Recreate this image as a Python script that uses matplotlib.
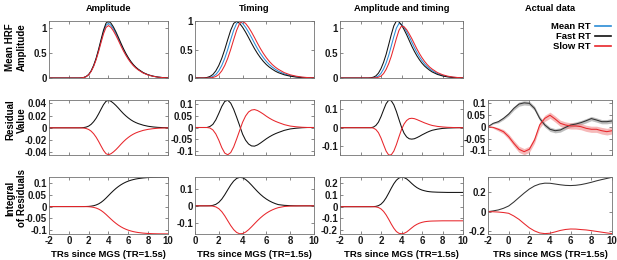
import numpy as np
import matplotlib.pyplot as plt

plt.rcParams['font.family'] = ['Liberation Sans', 'DejaVu Sans']
plt.rcParams['font.weight'] = 'bold'
plt.rcParams['axes.unicode_minus'] = False

# time axis of the model curves (TRs since MGS)
t_model = [-2, 0.75, 1.0, 1.25, 1.5, 1.75, 2.0, 2.25, 2.5, 2.75, 3.0, 3.25, 3.5,
           3.75, 4.0, 4.25, 4.5, 4.75, 5.0, 5.25, 5.5, 5.75, 6.0, 6.25, 6.5, 6.75,
           7.0, 7.5, 8.0, 8.5, 9.0, 9.5, 10.0]

# --- Amplitude model
amp_mean = [0, 0, 0, 0.002, 0.010, 0.029, 0.068, 0.139, 0.244, 0.383, 0.555, 0.747, 0.930,
            1.063, 1.102, 1.063, 0.988, 0.894, 0.788, 0.677, 0.572, 0.477, 0.394, 0.322,
            0.261, 0.211, 0.170, 0.104, 0.062, 0.036, 0.018, 0.008, 0.003]
amp_fast = [0, 0, 0, 0.002, 0.010, 0.030, 0.070, 0.144, 0.254, 0.398, 0.578, 0.777, 0.968,
            1.106, 1.147, 1.106, 1.028, 0.930, 0.820, 0.705, 0.595, 0.497, 0.410, 0.335,
            0.271, 0.219, 0.177, 0.109, 0.065, 0.037, 0.018, 0.008, 0.003]
amp_slow = [0, 0, 0, 0.002, 0.010, 0.028, 0.065, 0.133, 0.234, 0.367, 0.533, 0.717, 0.892,
            1.020, 1.058, 1.020, 0.948, 0.857, 0.756, 0.650, 0.548, 0.458, 0.378, 0.309,
            0.250, 0.202, 0.163, 0.100, 0.060, 0.034, 0.017, 0.007, 0.003]
amp_res_fast = [0, 0, 0, 0.0001, 0.0004, 0.0012, 0.0028, 0.0057, 0.0100, 0.0156, 0.0227,
                0.0305, 0.0380, 0.0434, 0.0450, 0.0434, 0.0403, 0.0365, 0.0322, 0.0276,
                0.0233, 0.0195, 0.0161, 0.0131, 0.0106, 0.0086, 0.0069, 0.0043, 0.0025,
                0.0014, 0.0007, 0.0003, 0.0001]
amp_res_slow = [0, 0, 0, -0.0001, -0.0004, -0.0012, -0.0027, -0.0055, -0.0097, -0.0153,
                -0.0222, -0.0298, -0.0371, -0.0424, -0.0440, -0.0424, -0.0394, -0.0357,
                -0.0315, -0.0270, -0.0228, -0.0190, -0.0157, -0.0128, -0.0104, -0.0084,
                -0.0068, -0.0042, -0.0025, -0.0014, -0.0007, -0.0003, -0.0001]
amp_int_fast = [0, 0, 0, 0, 0.0001, 0.0003, 0.0007, 0.0018, 0.0036, 0.0067, 0.0113, 0.0177,
                0.0259, 0.0357, 0.0463, 0.0570, 0.0670, 0.0763, 0.0845, 0.0917, 0.0978,
                0.1030, 0.1073, 0.1108, 0.1136, 0.1160, 0.1178, 0.1205, 0.1222, 0.1231,
                0.1236, 0.1239, 0.1240]
amp_int_slow = [0, 0, 0, 0, -0.0001, -0.0002, -0.0007, -0.0016, -0.0034, -0.0062, -0.0105,
                -0.0164, -0.0241, -0.0331, -0.0430, -0.0528, -0.0622, -0.0707, -0.0784,
                -0.0851, -0.0908, -0.0955, -0.0995, -0.1027, -0.1054, -0.1075, -0.1093,
                -0.1118, -0.1133, -0.1142, -0.1147, -0.1149, -0.1150]

# --- Timing model
tim_mean = [0, 0, 0.002, 0.009, 0.026, 0.061, 0.125, 0.22, 0.345, 0.5, 0.673, 0.838, 0.958,
            0.993, 0.958, 0.89, 0.805, 0.71, 0.61, 0.515, 0.43, 0.355, 0.29, 0.235, 0.19,
            0.153, 0.12, 0.073, 0.042, 0.023, 0.011, 0.005, 0.002]
tim_fast = [0, 0.002, 0.009, 0.026, 0.061, 0.125, 0.22, 0.345, 0.5, 0.673, 0.838, 0.958,
            0.993, 0.958, 0.89, 0.805, 0.71, 0.61, 0.515, 0.43, 0.355, 0.29, 0.235, 0.19,
            0.153, 0.12, 0.094, 0.056, 0.032, 0.016, 0.007, 0.003, 0.001]
tim_slow = [0, 0, 0, 0.002, 0.009, 0.026, 0.061, 0.125, 0.22, 0.345, 0.5, 0.673, 0.838,
            0.958, 0.993, 0.958, 0.89, 0.805, 0.71, 0.61, 0.515, 0.43, 0.355, 0.29, 0.235,
            0.19, 0.153, 0.094, 0.056, 0.032, 0.016, 0.007, 0.003]
tim_res_fast = [0, 0, 0, 0.004, 0.013, 0.032, 0.059, 0.088, 0.109, 0.114, 0.102, 0.076,
                0.043, 0.008, -0.028, -0.053, -0.069, -0.077, -0.078, -0.073, -0.065,
                -0.056, -0.047, -0.039, -0.032, -0.026, -0.021, -0.012, -0.006, -0.003,
                -0.001, 0, 0]
tim_res_slow = [0, 0, 0, -0.002, -0.010, -0.027, -0.053, -0.084, -0.107, -0.114, -0.105,
                -0.081, -0.048, -0.013, 0.022, 0.048, 0.065, 0.073, 0.075, 0.071, 0.064,
                0.056, 0.047, 0.039, 0.032, 0.026, 0.021, 0.012, 0.006, 0.003, 0.001, 0, 0]
tim_int_fast = [0, 0, 0, 0.0005, 0.0028, 0.0088, 0.0208, 0.0401, 0.0661, 0.0956, 0.1243,
                0.1478, 0.1634, 0.1700, 0.1675, 0.1574, 0.1421, 0.1238, 0.1044, 0.0855,
                0.0682, 0.0531, 0.0402, 0.0294, 0.0205, 0.0132, 0.0073, 0.003, 0.001, 0,
                0, 0, 0]
tim_int_slow = [0, 0, 0, -0.0003, -0.0018, -0.0065, -0.0169, -0.0347, -0.0596, -0.0887,
                -0.1176, -0.1419, -0.1587, -0.1666, -0.1655, -0.1567, -0.1426, -0.1253,
                -0.1068, -0.0885, -0.0716, -0.0566, -0.0437, -0.0329, -0.0240, -0.0167,
                -0.0108, -0.004, -0.0015, -0.0005, 0, 0, 0]

# --- Amplitude and timing model
both_mean = [0, 0, 0, 0.004, 0.015, 0.040, 0.093, 0.180, 0.300, 0.452, 0.638, 0.828, 0.997,
             1.09, 1.074, 1.014, 0.927, 0.828, 0.719, 0.610, 0.512, 0.425, 0.349, 0.283,
             0.229, 0.185, 0.147, 0.089, 0.052, 0.029, 0.015, 0.007, 0.002]
both_fast = [0, 0, 0.005, 0.016, 0.042, 0.097, 0.188, 0.314, 0.473, 0.667, 0.866, 1.043,
             1.14, 1.123, 1.06, 0.969, 0.866, 0.752, 0.638, 0.536, 0.445, 0.365, 0.296,
             0.239, 0.194, 0.154, 0.12, 0.072, 0.041, 0.022, 0.010, 0.005, 0.001]
both_slow = [0, 0, 0, 0, 0.004, 0.015, 0.038, 0.088, 0.172, 0.286, 0.432, 0.608, 0.790,
             0.952, 1.04, 1.024, 0.967, 0.884, 0.790, 0.686, 0.582, 0.489, 0.406, 0.333,
             0.270, 0.218, 0.177, 0.109, 0.066, 0.037, 0.020, 0.009, 0.004]
both_res_fast = [0, 0, 0, 0.003, 0.012, 0.030, 0.060, 0.096, 0.130, 0.149, 0.146, 0.124,
                 0.088, 0.045, 0.003, -0.030, -0.050, -0.060, -0.062, -0.060, -0.054,
                 -0.047, -0.039, -0.032, -0.025, -0.019, -0.014, -0.008, -0.004, -0.002,
                 -0.001, 0, 0]
both_res_slow = [0, 0, 0, -0.002, -0.010, -0.027, -0.056, -0.092, -0.127, -0.148, -0.147,
                 -0.127, -0.092, -0.050, -0.010, 0.020, 0.039, 0.049, 0.051, 0.049, 0.044,
                 0.038, 0.032, 0.026, 0.021, 0.016, 0.012, 0.007, 0.004, 0.002, 0.001, 0, 0]
both_int_fast = [0, 0, 0, 0.0005, 0.0026, 0.0086, 0.0214, 0.0434, 0.0754, 0.1148, 0.1565,
                 0.1947, 0.2246, 0.2434, 0.2502, 0.247, 0.236, 0.218, 0.197, 0.178, 0.162,
                 0.150, 0.141, 0.135, 0.130, 0.127, 0.125, 0.123, 0.122, 0.121, 0.121,
                 0.121, 0.121]
both_int_slow = [0, 0, 0, -0.0003, -0.002, -0.007, -0.019, -0.040, -0.070, -0.107, -0.147,
                 -0.183, -0.211, -0.226, -0.230, -0.226, -0.215, -0.198, -0.180, -0.163,
                 -0.150, -0.140, -0.133, -0.128, -0.125, -0.123, -0.122, -0.121, -0.120,
                 -0.120, -0.120, -0.120, -0.120]

# --- Actual data
t_data = [-2, -1.5, -1, -0.5, 0, 0.5, 1, 1.5, 2, 2.5, 3, 3.5, 4, 4.5, 5, 5.5, 6, 6.5, 7,
          7.5, 8, 8.5, 9, 9.5, 10]
data_res_fast = [0, 0.014, 0.021, 0.035, 0.053, 0.077, 0.095, 0.100, 0.098, 0.077, 0.035,
                 0.007, -0.011, -0.017, -0.014, -0.003, 0.007, 0.011, 0.017, 0.025, 0.034,
                 0.028, 0.021, 0.021, 0.024]
data_sem_fast = [0, 0.003, 0.005, 0.006, 0.007, 0.008, 0.009, 0.009, 0.009, 0.009, 0.009,
                 0.009, 0.009, 0.009, 0.009, 0.009, 0.009, 0.009, 0.009, 0.009, 0.009,
                 0.009, 0.009, 0.009, 0.009]
data_res_slow = [0, -0.003, -0.011, -0.021, -0.042, -0.070, -0.095, -0.105, -0.095, -0.056,
                 0.007, 0.035, 0.048, 0.032, 0.014, 0.007, 0.003, 0.003, 0, -0.007, -0.011,
                 -0.011, -0.017, -0.021, -0.017]
data_sem_slow = [0, 0.004, 0.007, 0.009, 0.011, 0.012, 0.013, 0.013, 0.013, 0.013, 0.013,
                 0.013, 0.013, 0.013, 0.013, 0.013, 0.013, 0.013, 0.013, 0.013, 0.013,
                 0.013, 0.014, 0.014, 0.014]
data_int_fast = [0, 0.008, 0.018, 0.035, 0.059, 0.100, 0.147, 0.193, 0.235, 0.267, 0.287,
                 0.296, 0.295, 0.287, 0.279, 0.273, 0.271, 0.274, 0.281, 0.292, 0.305,
                 0.320, 0.333, 0.345, 0.357]
data_int_slow = [0, -0.001, -0.004, -0.009, -0.017, -0.045, -0.080, -0.125, -0.168, -0.200,
                 -0.221, -0.228, -0.224, -0.210, -0.195, -0.185, -0.180, -0.181, -0.186,
                 -0.190, -0.197, -0.205, -0.213, -0.221, -0.228]

c_mean = '#2b8cd6'
c_fast = '#111111'
c_slow = '#e8262b'
lw = 0.75

W, H = 617, 260
fig = plt.figure(figsize=(W / 100, H / 100), dpi=100)

cols = [(49, 168), (195, 314), (340, 463), (488, 612)]
rows = [(21, 78), (100, 155), (177, 234)]


def make_ax(r, c):
    x0, x1 = cols[c]
    y0, y1 = rows[r]
    return fig.add_axes([x0 / W, 1 - y1 / H, (x1 - x0) / W, (y1 - y0) / H])


def style(ax, xlim, ylim, yticks, bottom):
    ax.set_xlim(xlim)
    ax.set_ylim(ylim)
    ax.set_xticks(range(xlim[0], xlim[1] + 1, 2))
    ax.set_yticks(yticks)
    ax.set_yticklabels(['%g' % v for v in yticks])
    if not bottom:
        ax.set_xticklabels([])
    else:
        ax.set_xlabel('TRs since MGS (TR=1.5s)', fontsize=6.8, fontweight='bold', labelpad=3)
    ax.tick_params(direction='in', length=2, width=0.5, top=True, right=True,
                   labelsize=7, pad=1.5, color='0.35', labelcolor='0.1')
    for s in ax.spines.values():
        s.set_linewidth(0.6)
        s.set_color('0.45')


titles = ['Amplitude', 'Timing', 'Amplitude and timing', 'Actual data']

model = [
    (amp_mean, amp_fast, amp_slow, amp_res_fast, amp_res_slow, amp_int_fast, amp_int_slow),
    (tim_mean, tim_fast, tim_slow, tim_res_fast, tim_res_slow, tim_int_fast, tim_int_slow),
    (both_mean, both_fast, both_slow, both_res_fast, both_res_slow, both_int_fast, both_int_slow),
]
xlims = [(-2, 10), (0, 10), (-2, 10)]
ylim_hrf = [(0, 1.15), (0, 1.0), (0, 1.14)]
ylim_res = [(-0.0445, 0.0455), (-0.115, 0.115), (-0.148, 0.15)]
ylim_int = [(-0.1155, 0.1245), (-0.168, 0.172), (-0.232, 0.252)]
yt_hrf = [[0, 0.5, 1], [0, 0.5, 1], [0, 0.5, 1]]
yt_res = [[-0.04, -0.02, 0, 0.02, 0.04], [-0.1, -0.05, 0, 0.05, 0.1], [-0.1, 0, 0.1]]
yt_int = [[-0.1, -0.05, 0, 0.05, 0.1], [-0.1, 0, 0.1], [-0.2, -0.1, 0, 0.1, 0.2]]

for c, (m, f, s, rf, rs, i_f, i_s) in enumerate(model):
    ax = make_ax(0, c)
    ax.plot(t_model, m, color=c_mean, lw=lw)
    ax.plot(t_model, f, color=c_fast, lw=lw)
    ax.plot(t_model, s, color=c_slow, lw=lw)
    style(ax, xlims[c], ylim_hrf[c], yt_hrf[c], False)
    ax.set_title(titles[c], fontsize=6.7, fontweight='bold', pad=7)

    ax = make_ax(1, c)
    ax.plot(t_model, rf, color=c_fast, lw=lw)
    ax.plot(t_model, rs, color=c_slow, lw=lw)
    style(ax, xlims[c], ylim_res[c], yt_res[c], False)

    ax = make_ax(2, c)
    ax.plot(t_model, i_f, color=c_fast, lw=lw)
    ax.plot(t_model, i_s, color=c_slow, lw=lw)
    style(ax, xlims[c], ylim_int[c], yt_int[c], True)

# actual data column
ax = make_ax(0, 3)
ax.axis('off')
ax.set_title(titles[3], fontsize=6.7, fontweight='bold', pad=7)
ax.plot([], [], color=c_mean, lw=1.2, label='Mean RT')
ax.plot([], [], color=c_fast, lw=1.2, label='Fast RT')
ax.plot([], [], color=c_slow, lw=1.2, label='Slow RT')
ax.legend(loc='upper right', frameon=False, markerfirst=False, fontsize=6.8,
          handlelength=1.7, handletextpad=0.4, labelspacing=0.08, borderaxespad=0,
          borderpad=0.15)

ax = make_ax(1, 3)
fast = np.array(data_res_fast)
slow = np.array(data_res_slow)
ax.fill_between(t_data, fast - np.array(data_sem_fast), fast + np.array(data_sem_fast),
                color='0.55', alpha=0.55, lw=0)
ax.fill_between(t_data, slow - np.array(data_sem_slow), slow + np.array(data_sem_slow),
                color='#f08080', alpha=0.55, lw=0)
ax.plot(t_data, data_res_fast, color='0.2', lw=lw)
ax.plot(t_data, data_res_slow, color=c_slow, lw=lw)
style(ax, (-2, 10), (-0.119, 0.112), [-0.1, -0.05, 0, 0.05, 0.1], False)

ax = make_ax(2, 3)
ax.plot(t_data, data_int_fast, color='0.2', lw=lw)
ax.plot(t_data, data_int_slow, color=c_slow, lw=lw)
style(ax, (-2, 10), (-0.232, 0.36), [-0.2, 0, 0.2], True)

# row labels
row_labels = ['Mean HRF\nAmplitude', 'Residual\nValue', 'Integral\nof Residuals']
row_y = [47, 120, 198]
for lab, y in zip(row_labels, row_y):
    fig.text(16 / W, 1 - y / H, lab, rotation=90, ha='center', va='center',
             multialignment='center', fontsize=7, fontweight='bold', linespacing=1.2)

fig.savefig('out.png', dpi=100)
